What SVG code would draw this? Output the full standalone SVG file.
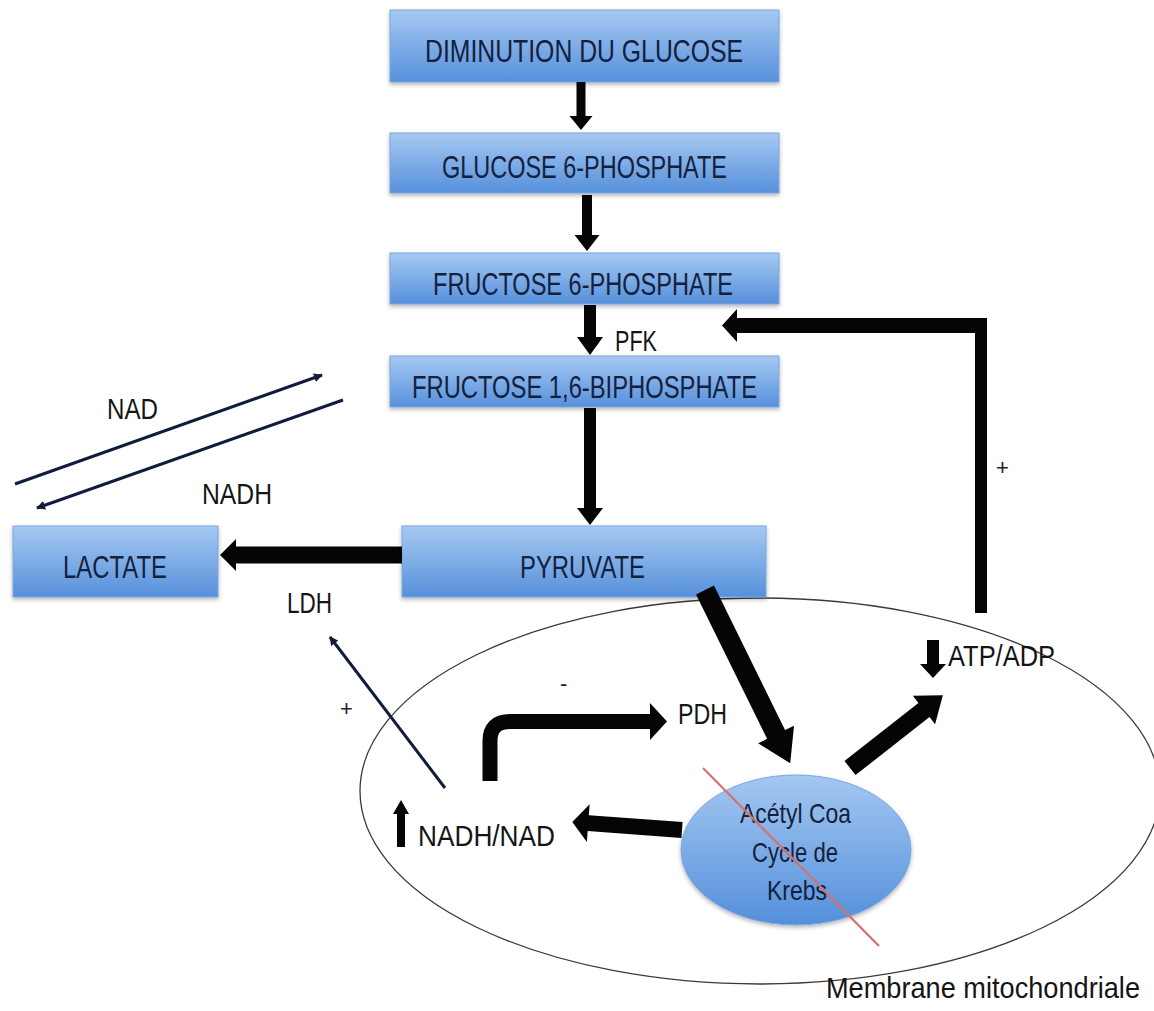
<svg xmlns="http://www.w3.org/2000/svg" width="1154" height="1011" viewBox="0 0 1154 1011">
<defs>
<linearGradient id="gBox" x1="0" y1="0" x2="0" y2="1">
<stop offset="0" stop-color="#a6c9f2"/>
<stop offset="1" stop-color="#5690db"/>
</linearGradient>
<linearGradient id="gEll" x1="0" y1="0" x2="0" y2="1">
<stop offset="0" stop-color="#a4c7f1"/>
<stop offset="1" stop-color="#5490db"/>
</linearGradient>
<filter id="sh" x="-10%" y="-20%" width="120%" height="150%">
<feDropShadow dx="0" dy="2" stdDeviation="2" flood-color="#000" flood-opacity="0.3"/>
</filter>
<marker id="sm" viewBox="0 0 10 10" refX="9" refY="5" markerWidth="3" markerHeight="3" orient="auto">
<path d="M0,0 L10,5 L0,10 z" fill="#101c3c"/>
</marker>
<style>
.box{fill:url(#gBox);stroke:#7aa6de;stroke-width:1;filter:url(#sh)}
.bt{font-family:"Liberation Sans",Arial,sans-serif;font-size:31px;fill:#14213d}
.kt{font-family:"Liberation Sans",Arial,sans-serif;font-size:28px;fill:#14213d}
.lb{font-family:"Liberation Sans",Arial,sans-serif;font-size:30px;fill:#151515}
.sg{font-family:"Liberation Sans",Arial,sans-serif;font-size:22px;fill:#222}
.ar{fill:#050505}
.thin{stroke:#101c3c;stroke-width:3;fill:none;marker-end:url(#sm)}
</style>
</defs>

<g id="membrane">
<ellipse cx="760" cy="791" rx="400" ry="193" fill="none" stroke="#3a3a3a" stroke-width="1.3"/>
</g>

<g id="n-diminution">
<rect class="box" x="390" y="10" width="389" height="72"/>
<text class="bt" x="425" y="62" textLength="318" lengthAdjust="spacingAndGlyphs">DIMINUTION DU GLUCOSE</text>
</g>
<g id="n-g6p">
<rect class="box" x="390" y="133" width="389" height="60"/>
<text class="bt" x="442" y="178" textLength="285" lengthAdjust="spacingAndGlyphs">GLUCOSE 6-PHOSPHATE</text>
</g>
<g id="n-f6p">
<rect class="box" x="390" y="253" width="389" height="51"/>
<text class="bt" x="433" y="295" textLength="300" lengthAdjust="spacingAndGlyphs">FRUCTOSE 6-PHOSPHATE</text>
</g>
<g id="n-f16bp">
<rect class="box" x="390" y="356" width="389" height="51"/>
<text class="bt" x="412" y="398" textLength="345" lengthAdjust="spacingAndGlyphs">FRUCTOSE 1,6-BIPHOSPHATE</text>
</g>
<g id="n-pyruvate">
<rect class="box" x="402" y="526" width="364" height="71"/>
<text class="bt" x="520" y="578" textLength="125" lengthAdjust="spacingAndGlyphs">PYRUVATE</text>
</g>
<g id="n-lactate">
<rect class="box" x="13" y="526" width="205" height="71"/>
<text class="bt" x="63" y="578" textLength="104" lengthAdjust="spacingAndGlyphs">LACTATE</text>
</g>
<g id="n-krebs">
<ellipse cx="796" cy="850" rx="115" ry="75" fill="url(#gEll)" stroke="#7aa6de" stroke-width="1" filter="url(#sh)"/>
<text class="kt" x="740" y="823" textLength="111" lengthAdjust="spacingAndGlyphs">Acétyl Coa</text>
<text class="kt" x="752" y="862" textLength="86" lengthAdjust="spacingAndGlyphs">Cycle de</text>
<text class="kt" x="767" y="900" textLength="60" lengthAdjust="spacingAndGlyphs">Krebs</text>
<line x1="703" y1="768" x2="879" y2="946" stroke="#d4716e" stroke-width="2.2"/>
</g>

<g id="connectors">
<polygon class="ar" points="576.5,82 585.5,82 585.5,116 592.5,116 581,130 569.5,116 576.5,116"/>
<polygon class="ar" points="582,195 592,195 592,235 599.5,235 587,251 574.5,235 582,235"/>
<polygon class="ar" points="584,305 596,305 596,337 603,337 590,355 577,337 584,337"/>
<polygon class="ar" points="584,408 596,408 596,508 603,508 590,525 577,508 584,508"/>
<polygon class="ar" points="402,546.5 236,546.5 236,539 220,555 236,571 236,563.5 402,563.5"/>
<polygon class="ar" points="987,613 987,318 737,318 737,309 722,325.5 737,342 737,333 975,333 975,613"/>
<polygon class="ar" transform="translate(705,590) rotate(63.8)" points="0,-10 161,-10 161,-20 193,0 161,20 161,10 0,10"/>
<polygon class="ar" transform="translate(850,768) rotate(-38.1)" points="0,-9 94,-9 94,-18 118,0 94,18 94,9 0,9"/>
<polygon class="ar" transform="translate(682,830) rotate(184.2)" points="0,-8 94,-8 94,-19 110,0 94,19 94,8 0,8"/>
<polygon class="ar" points="927,640 939,640 939,664 946,664 933,678 920,664 927,664"/>
<polygon class="ar" points="397,847 405,847 405,814 409,814 401,800 393,814 397,814"/>
<path d="M490,781 V741 Q490,721.5 510,721.5 H651" fill="none" stroke="#050505" stroke-width="15"/>
<polygon class="ar" points="650,703 667,721.5 650,740"/>
<line class="thin" x1="15" y1="484" x2="322" y2="375"/>
<line class="thin" x1="343" y1="400" x2="37" y2="508"/>
<line class="thin" x1="445" y1="788" x2="330" y2="637"/>
</g>

<g id="labels">
<text class="lb" x="615" y="351" textLength="42" lengthAdjust="spacingAndGlyphs">PFK</text>
<text class="lb" x="107" y="419" textLength="51" lengthAdjust="spacingAndGlyphs">NAD</text>
<text class="lb" x="202" y="504" textLength="70" lengthAdjust="spacingAndGlyphs">NADH</text>
<text class="lb" x="287" y="613" textLength="45" lengthAdjust="spacingAndGlyphs">LDH</text>
<text class="lb" x="678" y="724" textLength="49" lengthAdjust="spacingAndGlyphs">PDH</text>
<text class="lb" x="418" y="846" textLength="137" lengthAdjust="spacingAndGlyphs">NADH/NAD</text>
<text class="lb" x="948" y="666" textLength="107" lengthAdjust="spacingAndGlyphs">ATP/ADP</text>
<text class="lb" x="826" y="998" font-size="25" textLength="314" lengthAdjust="spacingAndGlyphs">Membrane mitochondriale</text>
<text class="sg" x="996" y="475">+</text>
<text class="sg" x="340" y="716">+</text>
<text class="sg" x="560" y="691">-</text>
</g>
</svg>
